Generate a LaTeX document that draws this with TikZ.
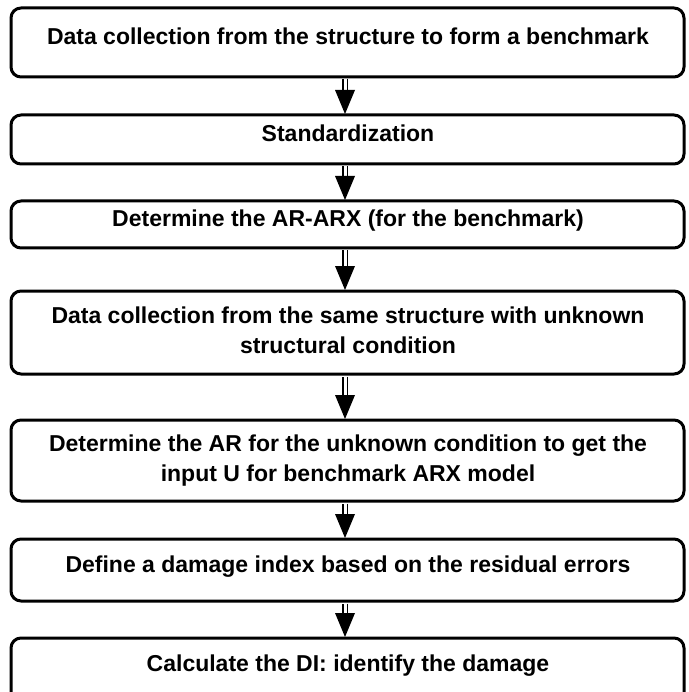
\documentclass[tikz,border=0pt]{standalone}
\usepackage{fontspec}
\setmainfont{Liberation Sans}
\begin{document}
\begin{tikzpicture}[x=1pt,y=-1pt,
  stepbox/.style={draw=black, line width=3pt, rounded corners=10pt, fill=white,
    minimum width=673pt, inner sep=0pt},
  steptext/.style={anchor=base, inner sep=0pt, font=\fontsize{23}{30}\selectfont\bfseries},
  shaft/.style={draw=black, line width=1.5pt, double=white, double distance=3pt}
]
\useasboundingbox (0,0) rectangle (688,692);
\node[stepbox, minimum height=69pt] (b1) at (347.5,42.5) {};
\node[stepbox, minimum height=49pt] (b2) at (347.5,139.5) {};
\node[stepbox, minimum height=47pt] (b3) at (347.5,224.5) {};
\node[stepbox, minimum height=83pt] (b4) at (347.5,332.5) {};
\node[stepbox, minimum height=81pt] (b5) at (347.5,460.5) {};
\node[stepbox, minimum height=62pt] (b6) at (347.5,570) {};
\node[stepbox, minimum height=66pt] (b7) at (347.5,671) {};
\node[steptext] (t1) at (348,45) {Data collection from the structure to form a benchmark};
\node[steptext] (t2) at (348,142) {Standardization};
\node[steptext] (t3) at (348,227) {Determine the AR-ARX (for the benchmark)};
\node[steptext] (t4a) at (348,323) {Data collection from the same structure with unknown};
\node[steptext] (t4b) at (348,353) {structural condition};
\node[steptext] (t5a) at (348,451) {Determine the AR for the unknown condition to get the};
\node[steptext] (t5b) at (348,481) {input U for benchmark ARX model};
\node[steptext] (t6) at (348,572) {Define a damage index based on the residual errors};
\node[steptext] (t7) at (348,671) {Calculate the DI: identify the damage};
\foreach \a/\b in {b1/b2,b2/b3,b3/b4,b4/b5,b5/b6,b6/b7}{
  \coordinate (s\a) at ([xshift=-2.5pt,yshift=-1pt]\a.south);
  \coordinate (p\b) at ([xshift=-2.5pt,yshift=-0.5pt]\b.north);
  \coordinate (h\b) at ([yshift=24pt]p\b);
  \draw[shaft] (s\a) -- ([yshift=-1pt]h\b);
  \fill[black] ([xshift=-10pt]h\b) -- ([xshift=10pt]h\b) -- (p\b) -- cycle;
}
\end{tikzpicture}
\end{document}
